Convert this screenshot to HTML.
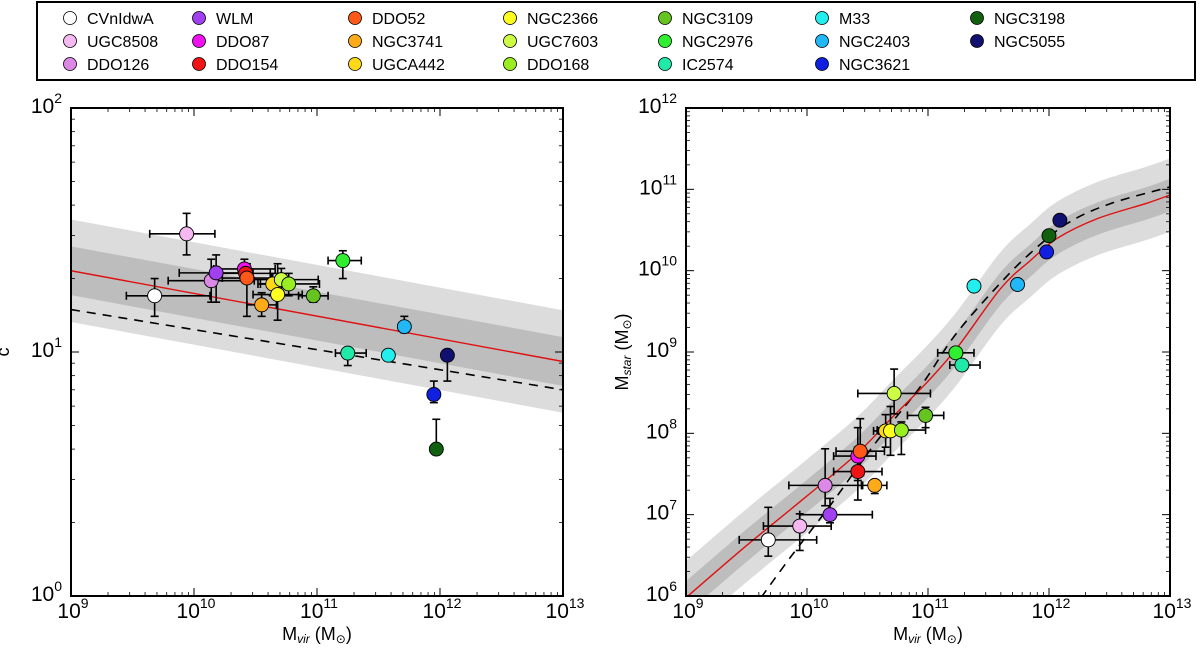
<!DOCTYPE html>
<html><head><meta charset="utf-8"><style>
body{margin:0;background:#fff}
svg{display:block;font-family:"Liberation Sans",sans-serif}
</style></head><body>
<svg id="c" width="1200" height="654" viewBox="0 0 1200 654" xmlns="http://www.w3.org/2000/svg"></svg>
<script>
const names=["CVnIdwA","UGC8508","DDO126","WLM","DDO87","DDO154","DDO52","NGC3741","UGCA442","NGC2366","UGC7603","DDO168","NGC3109","NGC2976","IC2574","M33","NGC2403","NGC3621","NGC3198","NGC5055"];
const colors=["#ffffff","#f5b8f0","#dc88e6","#a040f0","#f010f0","#f01414","#ff5818","#ffaa18","#ffd818","#ffff20","#ccff44","#99ee22","#66c420","#30ee30","#20eaa8","#22eeee","#22b8f8","#1020e0","#106010","#101070"];
const legendOrder=["CVnIdwA","UGC8508","DDO126","WLM","DDO87","DDO154","DDO52","NGC3741","UGCA442","NGC2366","UGC7603","DDO168","NGC3109","NGC2976","IC2574","M33","NGC2403","NGC3621","NGC3198","NGC5055"];
// left panel: log Mvir, concentration
const leftLogMvir=[9.68,9.94,10.14,10.18,10.41,10.42,10.43,10.55,10.64,10.68,10.71,10.77,10.97,11.21,11.25,11.58,11.71,11.95,11.97,12.06];
const conc=[17.0,30.5,19.6,21.1,21.9,21.0,20.1,15.6,19.0,17.2,19.8,19.0,17.0,23.7,9.9,9.7,12.7,6.7,4.0,9.7];
const leftXErrLo=[0.23,0.30,0.35,0.30,0.25,0.2,0.2,0.12,0.1,0.2,0.3,0.25,0.12,0.12,0.1,0,0,0.03,0,0];
const leftXErrHi=[0.45,0.23,0.35,0.30,0.25,0.2,0.2,0.12,0.1,0.2,0.3,0.25,0.12,0.15,0.15,0,0,0.03,0,0];
const concLo=[14,25,16,16,20,20,14,14,17,13.5,17,17,16,20,8.8,9.5,12,6.2,4.0,7.6];
const concHi=[20,37,24,25,24,22,23,17.5,21,23,22,21,18.5,26,10.4,9.9,14,7.6,5.3,10];
// right panel: log Mvir, log Mstar
const rightLogMvir=[9.68,9.94,10.15,10.19,10.42,10.42,10.44,10.56,10.65,10.69,10.72,10.78,10.98,11.23,11.28,11.38,11.74,11.98,12.0,12.09];
const logMstar=[6.69,6.86,7.36,7.0,7.72,7.53,7.78,7.36,8.03,8.03,8.49,8.04,8.22,8.99,8.84,9.81,9.83,10.23,10.43,10.62];
const rightXErrLo=[0.24,0.3,0.3,0.25,0.2,0.2,0.2,0.1,0.1,0.1,0.3,0.2,0.15,0.15,0.1,0,0,0,0.03,0];
const rightXErrHi=[0.4,0.26,0.3,0.35,0.15,0.2,0.2,0.1,0.1,0.1,0.3,0.2,0.15,0.15,0.15,0,0,0,0.03,0];
const mstarErrLo=[0.2,0.3,0.25,0.1,0.3,0.35,0.3,0.1,0.2,0.3,0.25,0.3,0.15,0.05,0.05,0,0,0,0,0];
const mstarErrHi=[0.4,0.15,0.45,0.2,0.35,0.3,0.4,0.05,0.2,0.3,0.3,0.1,0.1,0.05,0.05,0,0,0,0,0];
// left model lines (log c vs log Mvir)
const relMvir=[9,13];
const relLogC=[1.333,0.961];
const dashLogC=[1.174,0.845];
const bandInner=0.10, bandOuter=0.21;
// right SHMR curves
const shmrMvir=[9,9.5,10,10.42,10.72,11,11.25,11.6,11.85,12.07,12.4,12.81,13];
const shmrMstar=[5.98,6.62,7.23,7.76,8.22,8.64,9.07,9.78,10.13,10.40,10.64,10.83,10.93];
const dashMvir=[9.62,9.87,10.2,10.56,10.94,11.23,11.6,11.85,12.15,12.5,13];
const dashMstar=[5.98,6.49,7.13,7.87,8.58,9.22,9.85,10.22,10.58,10.82,11.03];
const shmrInner=0.2, shmrOuter=0.45;

const S=document.getElementById('c');const NS="http://www.w3.org/2000/svg";
function el(t,a,p){const e=document.createElementNS(NS,t);for(const k in a)e.setAttribute(k,a[k]);(p||S).appendChild(e);return e;}
function panel(x0,x1,y0,y1,ymin,ymax){return{x:v=>x0+(v-9)/4*(x1-x0),y:v=>y1-(v-ymin)/(ymax-ymin)*(y1-y0),x0,x1,y0,y1,ymin,ymax};}
const L=panel(71,563,108,596,0,2), R=panel(686,1170,108,596,6,12);

// legend
const lg=el('g',{});

el('rect',{x:37,y:2,width:1158,height:78,fill:'#fff',stroke:'#000','stroke-width':2},lg);
const colX=[70,199,355,510,665,822,977];
legendOrder.forEach((n,i)=>{const ci=Math.floor(i/3),ri=i%3;const k=names.indexOf(n);
 const g=el('g',{},lg);
 
 el('circle',{cx:colX[ci],cy:18+ri*23,r:6.5,fill:colors[k],stroke:'#000','stroke-width':0.8},g);
 const t=el('text',{x:colX[ci]+17,y:24+ri*23,'font-size':16},g);t.textContent=n;});

// Catmull-Rom smoothing
function smooth(pts){if(pts.length<3)return 'M'+pts.map(p=>p.join(',')).join(' L');
 let d='M'+pts[0][0]+','+pts[0][1];
 for(let i=0;i<pts.length-1;i++){const p0=pts[i-1]||pts[i],p1=pts[i],p2=pts[i+1],p3=pts[i+2]||p2;
  const c1=[p1[0]+(p2[0]-p0[0])/6,p1[1]+(p2[1]-p0[1])/6],c2=[p2[0]-(p3[0]-p1[0])/6,p2[1]-(p3[1]-p1[1])/6];
  d+=' C'+c1.join(',')+' '+c2.join(',')+' '+p2.join(',');}
 return d;}
function band(top,bot,attrs,g,name){const d=smooth(top)+' L'+smooth(bot.slice().reverse()).slice(1)+' Z';
 const e=el('path',Object.assign({d},attrs),g);return e;}
function line(pts,attrs,g,name){const e=el('path',Object.assign({d:smooth(pts),fill:'none'},attrs),g);return e;}

function axes(P,name,ylabel,ysub){
 const g=el('g',{});
 for(let d=9;d<=13;d++){
  const x=P.x(d);
  el('line',{x1:x,x2:x,y1:P.y1,y2:P.y1-8,stroke:'#000','stroke-width':1},g);
  el('line',{x1:x,x2:x,y1:P.y0,y2:P.y0+8,stroke:'#000','stroke-width':1},g);
  const t=el('text',{x:x+2,y:P.y1+22,'font-size':21,'text-anchor':'middle'},g);
  
  t.innerHTML='10<tspan dy="-10" font-size="14">'+d+'</tspan>';
  if(d<13)for(let m=2;m<10;m++){const xm=P.x(d+Math.log10(m));
   el('line',{x1:xm,x2:xm,y1:P.y1,y2:P.y1-4,stroke:'#000','stroke-width':0.8},g);
   el('line',{x1:xm,x2:xm,y1:P.y0,y2:P.y0+4,stroke:'#000','stroke-width':0.8},g);}
 }
 for(let d=P.ymin;d<=P.ymax;d++){
  const y=P.y(d);
  el('line',{x1:P.x0,x2:P.x0+8,y1:y,y2:y,stroke:'#000'},g);
  el('line',{x1:P.x1,x2:P.x1-8,y1:y,y2:y,stroke:'#000'},g);
  const t=el('text',{x:P.x0-9,y:y+5,'font-size':21,'text-anchor':'end'},g);
  
  t.innerHTML='10<tspan dy="-10" font-size="14">'+d+'</tspan>';
  if(d<P.ymax)for(let m=2;m<10;m++){const ym=P.y(d+Math.log10(m));
   el('line',{x1:P.x0,x2:P.x0+4,y1:ym,y2:ym,stroke:'#000','stroke-width':0.8},g);
   el('line',{x1:P.x1,x2:P.x1-4,y1:ym,y2:ym,stroke:'#000','stroke-width':0.8},g);}
 }
 el('rect',{x:P.x0,y:P.y0,width:P.x1-P.x0,height:P.y1-P.y0,fill:'none',stroke:'#000','stroke-width':2},g);
 const xl=el('text',{x:(P.x0+P.x1)/2,y:640,'font-size':18,'text-anchor':'middle'},g);
 
 xl.innerHTML='M<tspan font-size="12" font-style="italic" dy="3">vir</tspan><tspan dy="-3"> (M</tspan><tspan font-size="12" dy="3">⊙</tspan><tspan dy="-3">)</tspan>';
 const yx=ysub?628:9;
 const yl=el('text',{transform:'translate('+yx+','+((P.y0+P.y1)/2)+') rotate(-90)','font-size':18,'text-anchor':'middle'},g);
 
 yl.innerHTML=ysub?'M<tspan font-size="12" font-style="italic" dy="3">star</tspan><tspan dy="-3"> (M</tspan><tspan font-size="12" dy="3">⊙</tspan><tspan dy="-3">)</tspan>':ylabel;
}

function points(P,xs,ys,xlo,xhi,ylo,yhi,name){
 const g=el('g',{});
 xs.forEach((xv,i)=>{const cx=P.x(xv),cy=P.y(ys[i]);
  const eg=el('g',{stroke:'#000','stroke-width':1.6},g);
  
  if(xlo[i]+xhi[i]>0){const a=P.x(xv-xlo[i]),b=P.x(xv+xhi[i]);
   el('line',{x1:a,x2:b,y1:cy,y2:cy},eg);el('line',{x1:a,x2:a,y1:cy-4,y2:cy+4},eg);el('line',{x1:b,x2:b,y1:cy-4,y2:cy+4},eg);}
  const a=P.y(ylo[i]),b=P.y(yhi[i]);
  if(Math.abs(a-b)>1){el('line',{x1:cx,x2:cx,y1:a,y2:b},eg);el('line',{x1:cx-4,x2:cx+4,y1:a,y2:a},eg);el('line',{x1:cx-4,x2:cx+4,y1:b,y2:b},eg);}
 });
 xs.forEach((xv,i)=>{const c=el('circle',{cx:P.x(xv),cy:P.y(ys[i]),r:7,fill:colors[i],stroke:'#000','stroke-width':0.9},g);
  });
}

// LEFT
const cl=el('clipPath',{id:'cl'});el('rect',{x:L.x0,y:L.y0,width:L.x1-L.x0,height:L.y1-L.y0},cl);
const lgp=el('g',{'clip-path':'url(#cl)'});
const lb=(off)=>[[L.x(relMvir[0]),L.y(relLogC[0]+off)],[L.x(relMvir[1]),L.y(relLogC[1]+off)]];
band(lb(bandOuter),lb(-bandOuter),{fill:'#dcdcdc'},lgp,'outer-band');
band(lb(bandInner),lb(-bandInner),{fill:'#bdbdbd'},lgp,'inner-band');
line([[L.x(relMvir[0]),L.y(dashLogC[0])],[L.x(relMvir[1]),L.y(dashLogC[1])]],{stroke:'#000','stroke-width':1.6,'stroke-dasharray':'9,7'},lgp,'dashed-relation');
line(lb(0),{stroke:'#e01010','stroke-width':1.4},lgp,'best-fit-line');
points(L,leftLogMvir,conc.map(Math.log10),leftXErrLo,leftXErrHi,concLo.map(Math.log10),concHi.map(Math.log10),'left-points');
axes(L,'left-axes','c',false);

// RIGHT
const cr=el('clipPath',{id:'cr'});el('rect',{x:R.x0,y:R.y0,width:R.x1-R.x0,height:R.y1-R.y0},cr);
const rgp=el('g',{'clip-path':'url(#cr)'});
const rb=(off)=>shmrMvir.map((m,i)=>[R.x(m),R.y(shmrMstar[i]+off)]);
band(rb(shmrOuter),rb(-shmrOuter),{fill:'#dcdcdc'},rgp,'outer-band');
band(rb(shmrInner),rb(-shmrInner),{fill:'#bdbdbd'},rgp,'inner-band');
line(dashMvir.map((m,i)=>[R.x(m),R.y(dashMstar[i])]),{stroke:'#000','stroke-width':1.6,'stroke-dasharray':'9,7'},rgp,'dashed-shmr');
line(rb(0),{stroke:'#e01010','stroke-width':1.4},rgp,'shmr-line');
points(R,rightLogMvir,logMstar,rightXErrLo,rightXErrHi,logMstar.map((v,i)=>v-mstarErrLo[i]),logMstar.map((v,i)=>v+mstarErrHi[i]),'right-points');
axes(R,'right-axes','',true);
</script>
</body></html>
